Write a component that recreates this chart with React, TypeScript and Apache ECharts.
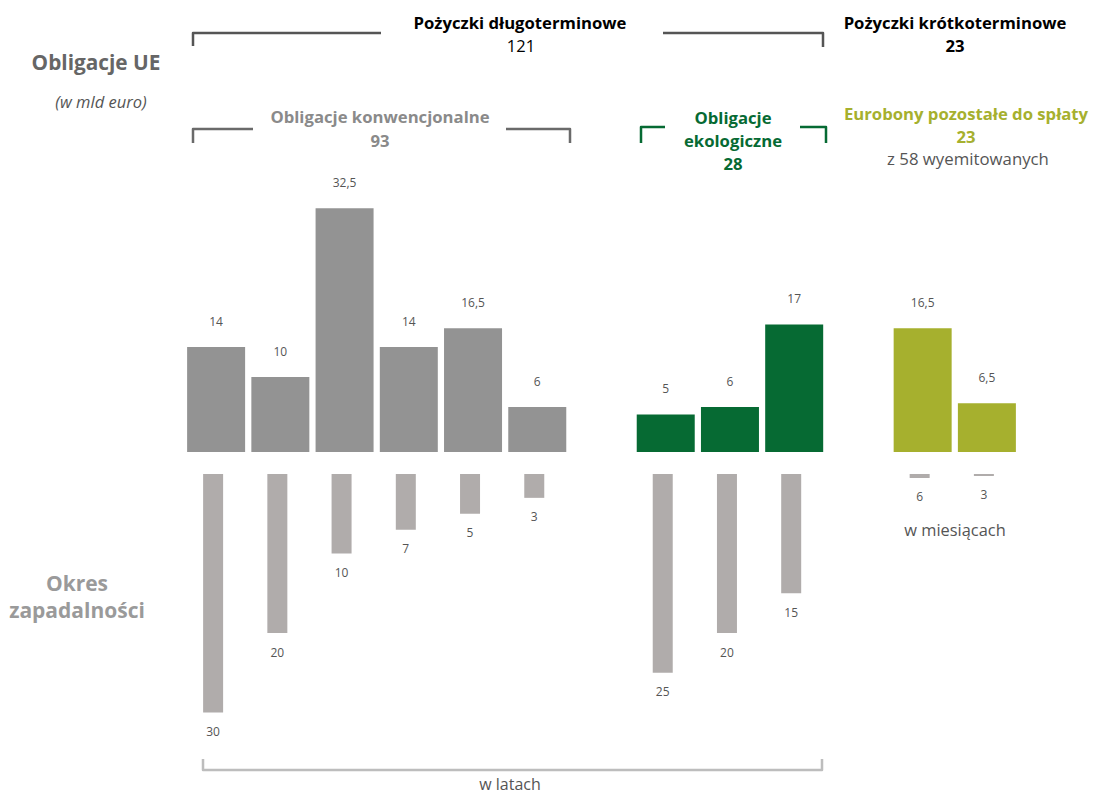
import React, { useEffect, useRef } from "react";
import * as echarts from "echarts";

// Categories: 6 conventional bonds, gap, 3 green bonds, gap, 2 EU-bills
const categories = ["K1", "K2", "K3", "K4", "K5", "K6", "", "E1", "E2", "E3", " ", "B1", "B2"];
const groups = ["conv", "conv", "conv", "conv", "conv", "conv", "gap", "green", "green", "green", "gap", "bill", "bill"];
// Amount outstanding (bn EUR)
const amounts: (number | null)[] = [14, 10, 32.5, 14, 16.5, 6, null, 5, 6, 17, null, 16.5, 6.5];
// Maturity expressed in years (the bills: 6 and 3 months)
const maturityYears: (number | null)[] = [30, 20, 10, 7, 5, 3, null, 25, 20, 15, null, 0.5, 0.25];
const maturityLabels = ["30", "20", "10", "7", "5", "3", "", "25", "20", "15", "", "6", "3"];

const groupColors: Record<string, string> = {
  conv: "#939393",
  green: "#066a33",
  bill: "#a6b02e",
  gap: "#ffffff",
};

const FONT = "'Open Sans', sans-serif";

function txt(text: string, x: number, y: number, size: number, color: string, weight: string = "normal", style: string = "normal") {
  return {
    type: "text",
    x,
    y,
    style: {
      text,
      fill: color,
      fontSize: size,
      fontWeight: weight,
      fontStyle: style,
      fontFamily: FONT,
      align: "center",
      verticalAlign: "middle",
    },
    silent: true,
  };
}

function pl(points: number[][], color: string, width: number) {
  return {
    type: "polyline",
    shape: { points },
    style: { stroke: color, lineWidth: width, fill: null, lineJoin: "round" },
    silent: true,
  };
}

export default function App() {
  const ref = useRef<HTMLDivElement>(null);
  useEffect(() => {
    if (!ref.current) return;
    const chart = echarts.init(ref.current, undefined, { renderer: "svg" });
    const fmt = (v: number) => String(v).replace(".", ",");
    const option = {
      animation: false,
      backgroundColor: "#ffffff",
      grid: [
        { left: 184, width: 835, top: 152, height: 300 },
        { left: 181, width: 835, top: 474, height: 318 },
      ],
      xAxis: [
        { type: "category", data: categories, gridIndex: 0, show: false, boundaryGap: true },
        { type: "category", data: categories, gridIndex: 1, show: false, boundaryGap: true },
      ],
      yAxis: [
        { type: "value", gridIndex: 0, min: 0, max: 40, show: false },
        { type: "value", gridIndex: 1, min: 0, max: 40, inverse: true, show: false },
      ],
      series: [
        {
          type: "bar",
          xAxisIndex: 0,
          yAxisIndex: 0,
          barWidth: 58,
          data: amounts.map((v, i) => ({
            value: v === null ? "-" : v,
            itemStyle: { color: groupColors[groups[i]] },
          })),
          label: {
            show: true,
            position: "top",
            distance: 20,
            color: "#555555",
            fontSize: 12,
            fontFamily: FONT,
            formatter: (p: any) => fmt(p.value),
          },
        },
        {
          type: "bar",
          xAxisIndex: 1,
          yAxisIndex: 1,
          barWidth: 20,
          itemStyle: { color: "#b0acab" },
          data: maturityYears.map((v) => (v === null ? "-" : v)),
          label: {
            show: true,
            position: "bottom",
            distance: 13,
            color: "#555555",
            fontSize: 12,
            fontFamily: FONT,
            formatter: (p: any) => maturityLabels[p.dataIndex],
          },
        },
      ],
      graphic: [
        // left titles
        txt("Obligacje UE", 96, 62, 20.8, "#666666", "bold"),
        txt("(w mld euro)", 101, 101, 16.5, "#555555", "normal", "italic"),
        txt("Okres", 77, 583, 21, "#9a9a9a", "bold"),
        txt("zapadalności", 77, 610, 21, "#9a9a9a", "bold"),
        // long-term loans
        txt("Pożyczki długoterminowe", 520, 22, 16.7, "#000000", "bold"),
        txt("121", 521, 45, 16.5, "#000000"),
        pl([[193, 46], [193, 33], [381, 33]], "#555555", 2.5),
        pl([[663, 33], [823, 33], [823, 47]], "#555555", 2.5),
        // short-term loans
        txt("Pożyczki krótkoterminowe", 955, 22, 16.7, "#000000", "bold"),
        txt("23", 955, 45, 16.7, "#000000", "bold"),
        // conventional
        txt("Obligacje konwencjonalne", 380, 116, 16.7, "#8a8a8a", "bold"),
        txt("93", 380, 140, 16.7, "#8a8a8a", "bold"),
        pl([[193, 143], [193, 129], [253, 129]], "#6a6a6a", 2.5),
        pl([[506, 129], [570, 129], [570, 143]], "#6a6a6a", 2.5),
        // green
        txt("Obligacje", 733, 117, 16.7, "#066a33", "bold"),
        txt("ekologiczne", 733, 140, 16.7, "#066a33", "bold"),
        txt("28", 733, 163, 16.7, "#066a33", "bold"),
        pl([[641, 143], [641, 127], [665, 127]], "#066a33", 2.5),
        pl([[800, 127], [826, 127], [826, 143]], "#066a33", 2.5),
        // eurobills
        txt("Eurobony pozostałe do spłaty", 966, 113, 16.7, "#a6b02e", "bold"),
        txt("23", 966, 136, 16.7, "#a6b02e", "bold"),
        txt("z 58 wyemitowanych", 968, 158, 16.8, "#555555"),
        // units below
        txt("w miesiącach", 955, 529, 16.4, "#555555"),
        txt("w latach", 510, 784, 16, "#555555"),
        pl([[203, 759], [203, 770], [822, 770], [822, 759]], "#bdbdbd", 2.5),
      ],
    };
    chart.setOption(option as any);
    return () => chart.dispose();
  }, []);
  return (
    <div
      ref={ref}
      style={{ position: "fixed", left: 0, top: 0, width: 1094, height: 794, background: "#fff" }}
    />
  );
}
